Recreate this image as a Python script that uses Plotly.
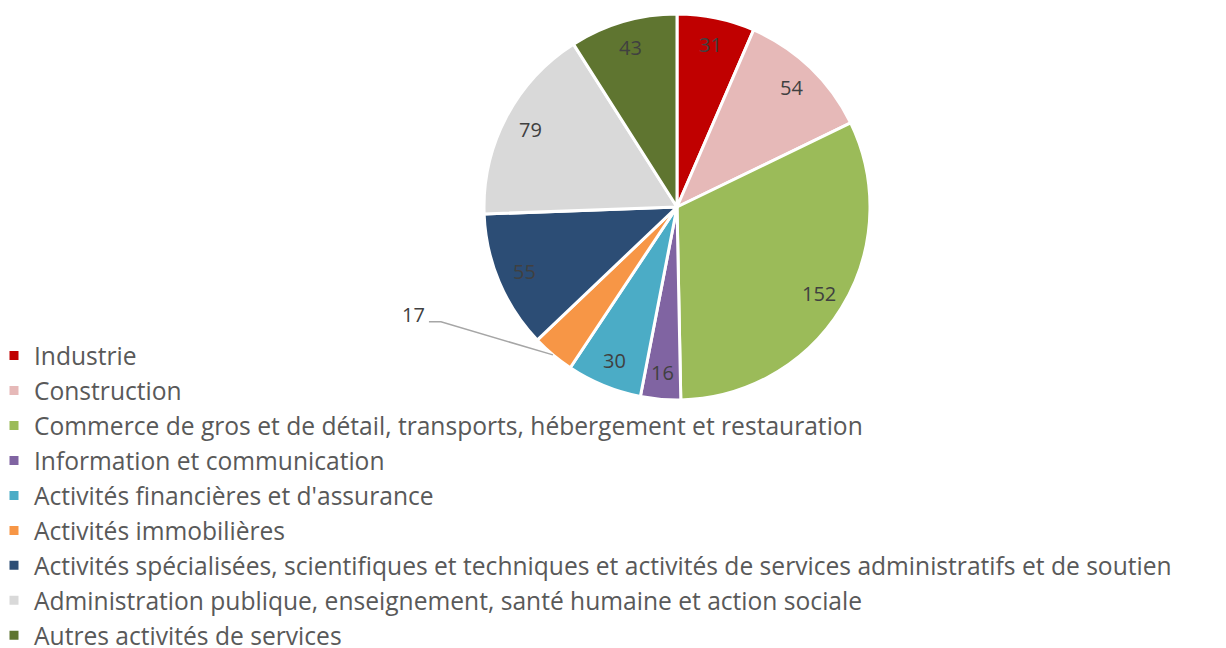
import math
import plotly.graph_objects as go

categories = [
    "Industrie",
    "Construction",
    "Commerce de gros et de détail, transports, hébergement et restauration",
    "Information et communication",
    "Activités financières et d'assurance",
    "Activités immobilières",
    "Activités spécialisées, scientifiques et techniques et activités de services administratifs et de soutien",
    "Administration publique, enseignement, santé humaine et action sociale",
    "Autres activités de services",
]
values = [31, 54, 152, 16, 30, 17, 55, 79, 43]
colors = ["#C00000", "#E6B9B8", "#9BBB59", "#8064A2", "#4BACC6",
          "#F79646", "#2C4D75", "#D9D9D9", "#5F7530"]
outside_labels = {5}  # slices whose value label sits outside with a leader line

W, H = 1226, 648
CX, CY, R = 677, 207, 193  # pie centre and radius in pixels
FONT = "Open Sans"
TXT = "#404040"

fig = go.Figure(go.Pie(
    labels=categories,
    values=values,
    sort=False,
    direction="clockwise",
    rotation=0,
    marker=dict(colors=colors, line=dict(color="white", width=3)),
    textinfo="none",
    hoverinfo="label+value",
    domain=dict(x=[(CX - R) / W, (CX + R) / W],
                y=[1 - (CY + R) / H, 1 - (CY - R) / H]),
))


def px_to_paper(x, y):
    return x / W, 1 - y / H


total = sum(values)
cum = 0
annotations = []
shapes = []
for i, v in enumerate(values):
    mid = (cum + v / 2) / total * 2 * math.pi
    cum += v
    dx, dy = math.sin(mid), -math.cos(mid)
    if i in outside_labels:
        ex, ey = CX + R * dx, CY + R * dy
        bx, by = ex - 112, ey - 33
        hx = bx - 12
        p = [px_to_paper(ex, ey), px_to_paper(bx, by), px_to_paper(hx, by)]
        shapes.append(dict(
            type="path", xref="paper", yref="paper",
            path="M {:.5f},{:.5f} L {:.5f},{:.5f} L {:.5f},{:.5f}".format(
                p[0][0], p[0][1], p[1][0], p[1][1], p[2][0], p[2][1]),
            line=dict(color="#A6A6A6", width=1.5),
        ))
        lx, ly = px_to_paper(hx - 2, by - 7)
        annotations.append(dict(x=lx, y=ly, xref="paper", yref="paper",
                                text=str(v), showarrow=False,
                                xanchor="right", yanchor="middle",
                                font=dict(family=FONT, size=20, color=TXT)))
    else:
        r = 0.86 * R
        lx, ly = px_to_paper(CX + r * dx, CY + r * dy)
        annotations.append(dict(x=lx, y=ly, xref="paper", yref="paper",
                                text=str(v), showarrow=False,
                                xanchor="center", yanchor="middle",
                                font=dict(family=FONT, size=20, color=TXT)))

fig.update_layout(
    width=W, height=H,
    margin=dict(l=0, r=0, t=0, b=0, autoexpand=False),
    paper_bgcolor="white",
    plot_bgcolor="white",
    showlegend=True,
    legend=dict(
        x=-6 / W, y=1 - 333 / H, xanchor="left", yanchor="top",
        font=dict(family=FONT, size=24.6, color="#595959"),
        tracegroupgap=0, itemclick=False,
        bgcolor="rgba(0,0,0,0)",
    ),
    annotations=annotations,
    shapes=shapes,
)

fig.write_html("out.html")
